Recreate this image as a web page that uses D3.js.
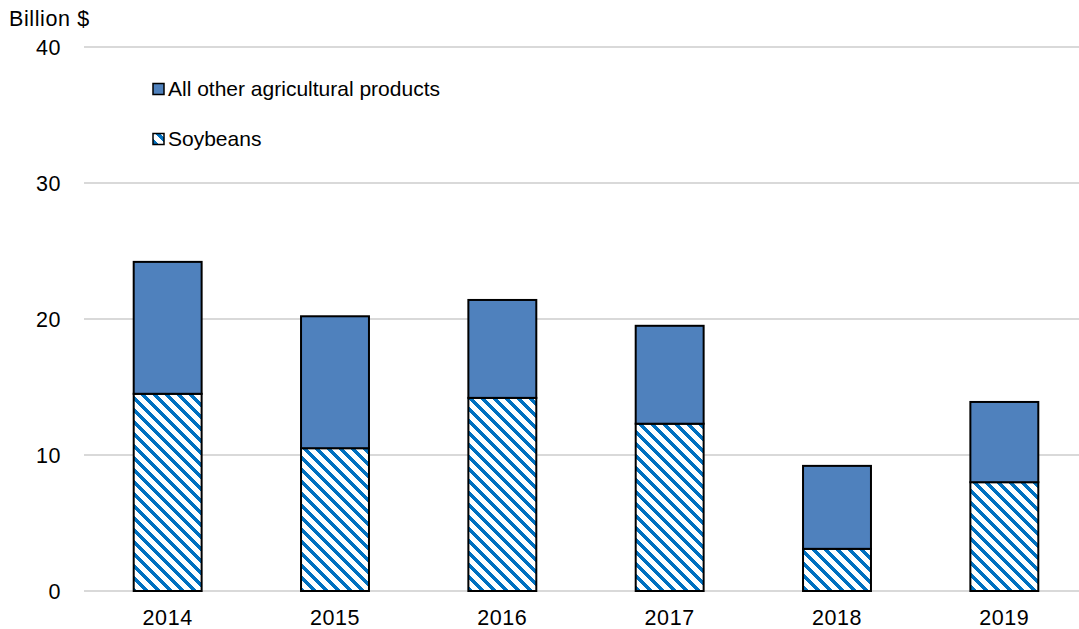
<!DOCTYPE html>
<html>
<head>
<meta charset="utf-8">
<script src="https://cdn.jsdelivr.net/npm/d3@7"></script>
<style>
  body { margin: 0; background: #fff; }
  svg { display: block; font-family: "Liberation Sans", Arial, sans-serif; }
</style>
</head>
<body>
<svg id="chart" width="1079" height="629"></svg>
<script>
const years = ["2014", "2015", "2016", "2017", "2018", "2019"];
const soybeans = [14.5, 10.5, 14.2, 12.3, 3.1, 8.0];
const otherProducts = [9.7, 9.7, 7.2, 7.2, 6.1, 5.9];
const yTicks = [0, 10, 20, 30, 40];
const seriesNames = ["All other agricultural products", "Soybeans"];

const svg = d3.select("#chart");

const x = d3.scaleBand().domain(years).range([84, 1088]).paddingInner(0.594).paddingOuter(0.297);
const y = d3.scaleLinear().domain([0, 40]).range([591, 47]);

// hatch pattern
const P = 12;
const defs = svg.append("defs");
const pat = defs.append("pattern")
  .attr("id", "hatch").attr("patternUnits", "userSpaceOnUse")
  .attr("width", P).attr("height", P);
pat.append("rect").attr("width", P).attr("height", P).attr("fill", "#fff");
pat.append("path")
  .attr("d", `M-2,-2 L${P + 2},${P + 2} M-2,${P - 2} L2,${P + 2} M${P - 2},-2 L${P + 2},2`)
  .attr("stroke", "#0070C0").attr("stroke-width", 3)
  .attr("shape-rendering", "crispEdges");

// gridlines
svg.append("g").selectAll("line").data(yTicks).join("line")
  .attr("x1", 84).attr("x2", 1079)
  .attr("y1", d => y(d)).attr("y2", d => y(d))
  .attr("stroke", "#d9d9d9").attr("stroke-width", 2);

const axisFont = 21.5;

// y labels
svg.append("g").selectAll("text").data(yTicks).join("text")
  .attr("x", 61).attr("y", d => y(d)).attr("dy", "0.35em")
  .attr("text-anchor", "end").attr("font-size", axisFont).attr("letter-spacing", 0.6).attr("fill", "#000")
  .text(d => d);

svg.append("text").attr("x", 9).attr("y", 26).attr("font-size", axisFont).attr("letter-spacing", 0.6).text("Billion $");

// x labels
svg.append("g").selectAll("text").data(years).join("text")
  .attr("x", d => x(d) + x.bandwidth() / 2).attr("y", 625)
  .attr("text-anchor", "middle").attr("font-size", axisFont).attr("letter-spacing", 0.6).text(d => d);

// bars
const bars = svg.append("g");
years.forEach((yr, i) => {
  const s = soybeans[i], o = otherProducts[i];
  bars.append("rect")
    .attr("x", x(yr)).attr("width", x.bandwidth())
    .attr("y", y(s)).attr("height", y(0) - y(s))
    .attr("fill", "url(#hatch)").attr("stroke", "#000").attr("stroke-width", 2);
  bars.append("rect")
    .attr("x", x(yr)).attr("width", x.bandwidth())
    .attr("y", y(s + o)).attr("height", y(s) - y(s + o))
    .attr("fill", "#4F81BD").attr("stroke", "#000").attr("stroke-width", 2);
});

// legend
const legend = svg.append("g");
const legendY = [89, 139];
legend.append("rect").attr("x", 153).attr("y", legendY[0] - 5.5).attr("width", 11).attr("height", 11)
  .attr("fill", "#4F81BD").attr("stroke", "#000").attr("stroke-width", 1.5);
legend.append("rect").attr("x", 153).attr("y", legendY[1] - 5.5).attr("width", 11).attr("height", 11)
  .attr("fill", "url(#hatch)").attr("stroke", "#000").attr("stroke-width", 1.5);
seriesNames.forEach((n, i) => {
  legend.append("text").attr("x", 168).attr("y", legendY[i]).attr("dy", "0.35em")
    .attr("font-size", 21).text(n);
});
</script>
</body>
</html>
